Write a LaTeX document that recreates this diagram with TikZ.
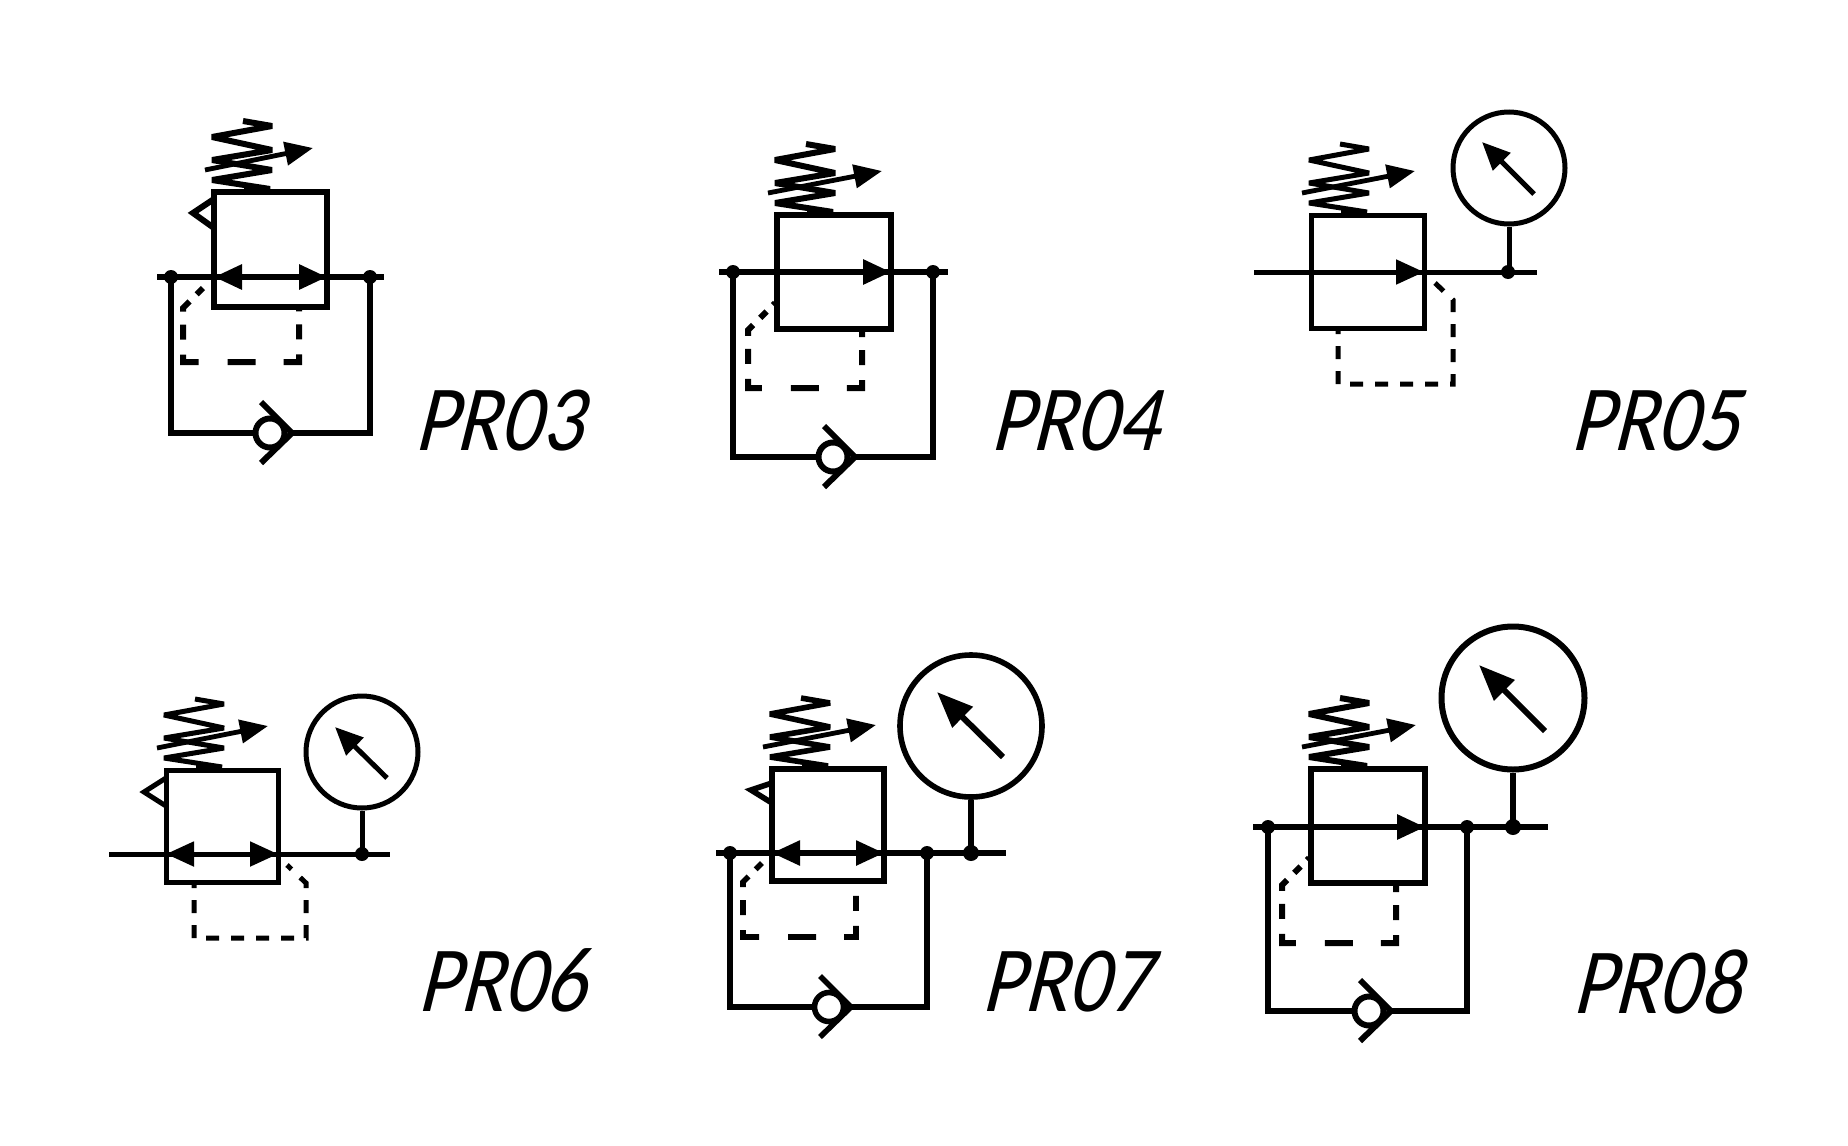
\documentclass[tikz,border=0pt]{standalone}
\usepackage{fontspec}
\newfontfamily\partfont[FakeSlant=0.25,FakeStretch=0.87]{Carlito}
\usetikzlibrary{arrows.meta}
\tikzset{
  partlabel/.style={font=\partfont\fontsize{46.6}{46.6}\selectfont,anchor=base west,inner sep=0pt},
  valvebox/.style={draw,rectangle,inner sep=0pt,outer sep=0pt},
  junction/.style={circle,fill=black,inner sep=0pt,minimum size=#1},
  junction/.default=7pt,
  gauge/.style={draw,circle,inner sep=0pt,minimum size=#1},
  ball/.style={draw,circle,inner sep=0pt,minimum size=14.5pt},
  flowone/.style={-{Triangle[length=14pt,width=12pt]}},
  flowboth/.style={{Triangle[length=14pt,width=12pt]}-{Triangle[length=14pt,width=12pt]}},
  needle/.style={-{Triangle[length=14pt,width=12pt]},line width=2.5pt},
  needlebig/.style={-{Triangle[length=18pt,width=14pt]},line width=3pt},
  pilot/.style={dash pattern=#1 on 4.5pt off 5pt on 6.5pt off 6.5pt on 7.5pt off 7.5pt on 11.5pt off 14.5pt on 14pt off 14pt on 11.5pt off 7.5pt on 7.5pt off 6.5pt on 3.5pt off 50pt},
  pilot/.default={},
  pilotthin/.style={dash pattern=on 6.5pt off 6pt,dash phase=3.5pt},
  pics/spring/.style={code={
    \draw[line join=bevel] (29,-71) -- (58,-66) -- (-2,-55) -- (58,-42) -- (-2,-32) -- (58,-22) -- (-2,-12) -- (56,-3) -- (30,-3);
    \draw[line width=2.4pt,-{Triangle[length=14pt,width=11.5pt]}] (-9,-22) -- (#1,-44);
  }},
  pics/checkvalve/.style={code={
    \node[ball] (-ball) at (0,0) {};
    \draw (-9,-31) -- (22,0) -- (-9,30);
  }},
}
\begin{document}
\begin{tikzpicture}[x=0.5pt,y=-0.5pt]
\useasboundingbox (0,0) rectangle (1848,1146);

% PR03
\begin{scope}[line width=3pt]
    \coordinate (in3) at (157,277);
    \coordinate (out3) at (384,277);
    \node[valvebox,minimum width=56.5pt,minimum height=57.5pt] (box3) at (270.5,249.5) {};
    \node[junction] (d3a) at (171,277) {};
    \node[junction] (d3b) at (370,277) {};
    \pic (chk3) at (270,433) {checkvalve};
    \draw (in3) -- (out3);
    \draw (d3a.center) |- (chk3-ball);
    \draw (chk3-ball) -| (d3b.center);
    \draw[flowboth] (box3.west |- in3) -- (box3.east |- in3);
    \draw (214,199) -- (193,213) -- (214,228);
    \draw[pilot] (203,288) -- (183,308) -- (183,362) -- (299,362) -- (299,307);
    \pic at (box3.north west) {spring=99};
    \node[partlabel] (lab3) at (411,450) {PR03};
\end{scope}

% PR04
\begin{scope}[line width=3pt]
    \coordinate (in4) at (719,272);
    \coordinate (out4) at (948,272);
    \node[valvebox,minimum width=57pt,minimum height=57pt] (box4) at (834,272) {};
    \node[junction] (d4a) at (733,272) {};
    \node[junction] (d4b) at (933,272) {};
    \pic (chk4) at (833,457) {checkvalve};
    \draw (in4) -- (out4);
    \draw (d4a.center) |- (chk4-ball);
    \draw (chk4-ball) -| (d4b.center);
    \draw[flowone] (in4) -- (box4.east |- in4);
    \draw[pilot={on 1.5pt off 4.5pt}] (775,303) -- (748,330) -- (748,388) -- (862,388) -- (862,329);
    \pic at (box4.north west) {spring=105};
    \node[partlabel] (lab4) at (987,450) {PR04};
\end{scope}

% PR05
\begin{scope}[line width=2.5pt]
    \coordinate (in5) at (1254,272);
    \coordinate (out5) at (1537,272);
    \node[valvebox,minimum width=56.5pt,minimum height=56.5pt] (box5) at (1367.5,271.5) {};
    \node[junction] (d5a) at (1508,272) {};
    \node[gauge=56pt] (g5) at (1509,168) {};
    \draw (in5) -- (out5);
    \draw (g5) -- (g5 |- d5a);
    \draw[flowone] (in5) -- (box5.east |- in5);
    \draw[needle] (1534,194) -- (1482,142);
    \draw[pilotthin] (1338,328) -- (1338,384) -- (1453,384) -- (1453,300) -- (1435,283);
    \pic at (box5.north west) {spring=104};
    \node[partlabel] (lab5) at (1568,450) {PR05};
\end{scope}

% PR06
\begin{scope}[line width=2.5pt]
    \coordinate (in6) at (109,854);
    \coordinate (out6) at (390,854);
    \node[valvebox,minimum width=56pt,minimum height=56pt] (box6) at (222,826) {};
    \node[junction] (d6a) at (362,854) {};
    \node[gauge=56pt] (g6) at (362,752) {};
    \draw (in6) -- (out6);
    \draw (g6) -- (d6a.center);
    \draw[flowboth] (box6.west |- in6) -- (box6.east |- in6);
    \draw (166,778) -- (144,792) -- (166,806);
    \draw[needle] (387,778) -- (335,727);
    \draw[pilotthin] (194,882) -- (194,938) -- (306,938) -- (306,883) -- (287,865);
    \pic at (box6.north west) {spring=102};
    \node[partlabel] (lab6) at (415,1011) {PR06};
\end{scope}

% PR07
\begin{scope}[line width=2.8pt]
    \coordinate (in7) at (716,853);
    \coordinate (out7) at (1006,853);
    \node[valvebox,minimum width=56pt,minimum height=56pt] (box7) at (828,825) {};
    \node[junction] (d7a) at (730,853) {};
    \node[junction] (d7b) at (927,853) {};
    \node[junction=8pt] (d7c) at (971,853) {};
    \node[gauge=71pt] (g7) at (971,726) {};
    \pic (chk7) at (829,1007) {checkvalve};
    \draw (in7) -- (out7);
    \draw (g7) -- (d7c.center);
    \draw (d7a.center) |- (chk7-ball);
    \draw (chk7-ball) -| (d7b.center);
    \draw[flowboth] (box7.west |- in7) -- (box7.east |- in7);
    \draw (772,783) -- (751,790) -- (772,803);
    \draw[needlebig] (1003,757) -- (937,692);
    \draw[pilot] (762,863) -- (743,882) -- (743,937) -- (856,937) -- (856,881);
    \pic at (box7.north west) {spring=104};
    \node[partlabel] (lab7) at (979,1011) {PR07};
\end{scope}

% PR08
\begin{scope}[line width=3pt]
    \coordinate (in8) at (1253,827);
    \coordinate (out8) at (1548,827);
    \node[valvebox,minimum width=57pt,minimum height=57pt] (box8) at (1368,826) {};
    \node[junction] (d8a) at (1268,827) {};
    \node[junction] (d8b) at (1467,827) {};
    \node[junction=8pt] (d8c) at (1513,827) {};
    \node[gauge=71.5pt] (g8) at (1513,698) {};
    \pic (chk8) at (1369,1011) {checkvalve};
    \draw (in8) -- (out8);
    \draw (g8) -- (d8c.center);
    \draw (d8a.center) |- (chk8-ball);
    \draw (chk8-ball) -| (d8b.center);
    \draw[flowone] (in8) -- (box8.east |- in8);
    \draw[needlebig] (1545,731) -- (1479,665);
    \draw[pilot={on 1.5pt off 4.5pt}] (1309,858) -- (1282,885) -- (1282,943) -- (1396,943) -- (1396,883);
    \pic at (box8.north west) {spring=105};
    \node[partlabel] (lab8) at (1569,1013) {PR08};
\end{scope}
\end{tikzpicture}
\end{document}
